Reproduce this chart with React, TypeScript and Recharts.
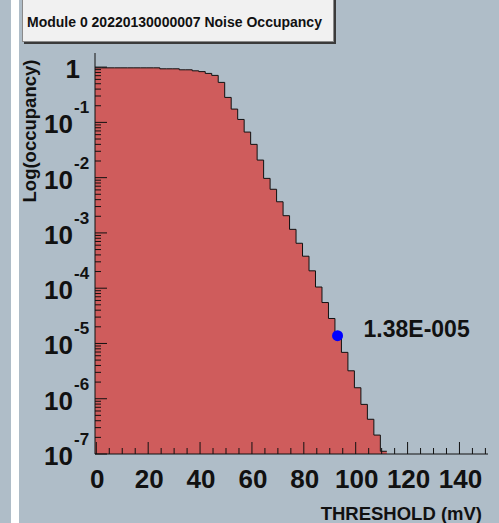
import { AreaChart, Area, XAxis, YAxis, ReferenceArea, ReferenceDot } from 'recharts';

const FONT = '"Liberation Sans", Arial, Helvetica, sans-serif';
const BG = '#afbdc8';
const FILL = '#cf5c5c';
const INK = '#111';

const title = 'Module 0 20220130000007 Noise Occupancy';

// lower edge of each threshold bin (mV) and the upper edge of the last one
const binLow = [
  -0.5, 2, 4.5, 7, 9.5, 12, 14.5, 17, 19.5, 22,
  24.5, 27, 29.5, 32, 34.5, 37, 39.5, 42, 44.5, 47,
  49.5, 52, 54.5, 57, 59.5, 62, 64.5, 67, 69.5, 72,
  74.5, 77, 79.5, 82, 84.5, 87, 89.5, 92, 94.5, 97,
  99.5, 102, 104.5, 107, 109.5,
];
const binEnd = 112;

const occupancy = [
  0.97, 0.97, 0.97, 0.97, 0.97, 0.97, 0.97, 0.97, 0.97, 0.97,
  0.932, 0.932, 0.932, 0.894, 0.894, 0.857, 0.829, 0.769, 0.708, 0.529,
  0.283, 0.174, 0.113, 0.0668, 0.04, 0.0208, 0.0097, 0.00616, 0.00366, 0.00205,
  0.00116, 6.5e-4, 3.79e-4, 2.06e-4, 1.05e-4, 5.5e-5, 2.83e-5, 1.38e-5, 6.9e-6, 3.2e-6,
  1.58e-6, 7.9e-7, 4.25e-7, 2.2e-7, 1.12e-7,
];

// working point marked on the curve
const markerThreshold = 93;
const markerOccupancy = 1.38e-5;

const xMajor = [0, 20, 40, 60, 80, 100, 120, 140];
const xMinorStep = 5;
const yDecades = [-7, -6, -5, -4, -3, -2, -1, 0];

const data = [
  ...binLow.map((x, i) => ({ x, occ: occupancy[i] })),
  { x: binEnd, occ: occupancy[occupancy.length - 1] },
];

const xTicks: number[] = [];
for (let v = 0; v <= 150; v += xMinorStep) xTicks.push(v);

const yTicks: number[] = [];
yDecades.forEach((d) => {
  const top = d === 0 ? 1 : 9;
  for (let m = 1; m <= top; m++) yTicks.push(Number(`${m}e${d}`));
});

function fmtSci(v: number) {
  const [mant, exp] = v.toExponential(2).split('e');
  const n = Number(exp);
  return `${mant.toUpperCase()}E${n < 0 ? '-' : '+'}${String(Math.abs(n)).padStart(3, '0')}`;
}

function XTick({ x, y, payload }: any) {
  const major = xMajor.includes(payload.value);
  return (
    <g>
      <line x1={x} y1={y} x2={x} y2={y - (major ? 12 : 6)} stroke={INK} strokeWidth={1} />
      {major && (
        <text x={x + 1} y={y + 34} textAnchor="middle" fontFamily={FONT} fontWeight="bold" fontSize={26} fill={INK}>
          {payload.value}
        </text>
      )}
    </g>
  );
}

function YTick({ x, y, payload }: any) {
  const lg = Math.log10(payload.value);
  const major = Math.abs(lg - Math.round(lg)) < 1e-9;
  const exp = Math.round(lg);
  return (
    <g>
      <line x1={x} y1={y} x2={x + (major ? 12 : 6)} y2={y} stroke={INK} strokeWidth={1} />
      {major && exp === 0 && (
        <text x={80} y={y + 11} textAnchor="end" fontFamily={FONT} fontWeight="bold" fontSize={26} fill={INK}>
          1
        </text>
      )}
      {major && exp !== 0 && (
        <text fontFamily={FONT} fontWeight="bold" fill={INK}>
          <tspan x={73} y={y + 11} textAnchor="end" fontSize={26}>10</tspan>
          <tspan x={74} y={y - 9} fontSize={17}>{exp}</tspan>
        </text>
      )}
    </g>
  );
}

export default function App() {
  return (
    <div style={{ position: 'absolute', left: 0, top: 0, width: 499, height: 523, background: BG, overflow: 'hidden' }}>
      <div style={{ position: 'absolute', left: 11, top: 0, width: 8, height: 523, background: '#fff' }} />
      <AreaChart width={499} height={523} data={data} margin={{ top: 53, right: 11, bottom: 0, left: 0 }}>
        <Area
          type="stepAfter"
          dataKey="occ"
          fill={FILL}
          fillOpacity={1}
          stroke={INK}
          strokeWidth={1}
          isAnimationActive={false}
          dot={false}
          activeDot={false}
        />
        <XAxis
          dataKey="x"
          type="number"
          domain={[-0.5, 151]}
          allowDataOverflow
          ticks={xTicks}
          interval={0}
          height={69}
          tickSize={0}
          tickMargin={0}
          tickLine={false}
          axisLine={{ stroke: INK }}
          tick={<XTick />}
          label={({ viewBox }: any) => (
            <text
              x={viewBox.x + viewBox.width - 6}
              y={viewBox.y + 66}
              textAnchor="end"
              fontFamily={FONT}
              fontWeight="bold"
              fontSize={18.5}
              fill={INK}
            >
              THRESHOLD (mV)
            </text>
          )}
        />
        <YAxis
          type="number"
          scale="log"
          domain={[1e-7, 1.8]}
          allowDataOverflow
          ticks={yTicks}
          interval={0}
          width={95}
          tickSize={0}
          tickMargin={0}
          tickLine={false}
          axisLine={{ stroke: INK }}
          tick={<YTick />}
          label={({ viewBox }: any) => (
            <text
              x={36}
              y={viewBox.y + 78}
              transform={`rotate(-90 36 ${viewBox.y + 78})`}
              textAnchor="middle"
              fontFamily={FONT}
              fontWeight="bold"
              fontSize={18.5}
              fill={INK}
            >
              Log(occupancy)
            </text>
          )}
        />
        <ReferenceArea fill="none" stroke="#333" strokeWidth={1} ifOverflow="visible" />
        <ReferenceDot
          x={markerThreshold}
          y={markerOccupancy}
          r={5.5}
          fill="#0000ff"
          stroke="none"
          label={({ viewBox }: any) => {
            const cx = viewBox.x + viewBox.width / 2;
            const cy = viewBox.y + viewBox.height / 2;
            return (
              <text x={cx + 26} y={cy + 1} fontFamily={FONT} fontWeight="bold" fontSize={23} fill={INK}>
                {fmtSci(markerOccupancy)}
              </text>
            );
          }}
        />
      </AreaChart>
      <div
        style={{
          position: 'absolute',
          left: 22,
          top: -4,
          width: 312,
          height: 46,
          background: '#f1f1f1',
          border: '1px solid #8a8a8a',
          boxShadow: '2px 2px 0 #3a3a3a',
          boxSizing: 'border-box',
        }}
      >
        <div
          style={{
            position: 'absolute',
            left: 4,
            top: 17,
            fontFamily: FONT,
            fontWeight: 'bold',
            fontSize: 14,
            lineHeight: '16px',
            color: INK,
            whiteSpace: 'nowrap',
          }}
        >
          {title}
        </div>
      </div>
    </div>
  );
}
